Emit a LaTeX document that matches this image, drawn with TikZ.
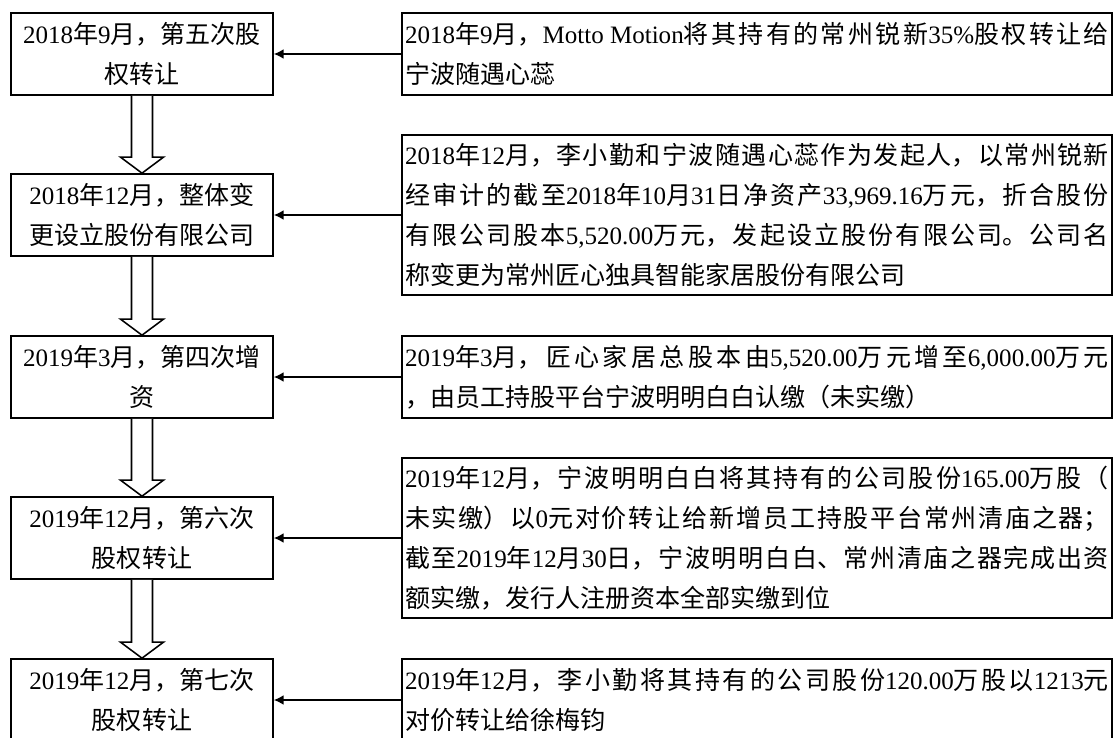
\documentclass[tikz,border=0pt]{standalone}
\usepackage{fontspec}
\setmainfont{Noto Sans CJK SC}
\newfontfamily\enfont{Liberation Serif}
\usetikzlibrary{arrows.meta}
\usetikzlibrary{calc}
\newcommand\en[1]{{\enfont #1}}
\newcommand\zhsize{\fontsize{17.8pt}{28.45pt}\selectfont}
% hollow block arrow from one stage box down to the next
\newcommand\flowdown[2]{%
  \draw[hollow] ($(#1.south)+(-0.2625,0)$) -- ($(#2.north)+(-0.2625,0.4)$)
    -- ($(#2.north)+(-0.5375,0.4)$) -- (#2.north) -- ($(#2.north)+(0.5375,0.4)$)
    -- ($(#2.north)+(0.2625,0.4)$) -- ($(#1.south)+(0.2625,0)$);}
\tikzset{
  >=latex,
  stage/.style={draw,line width=1.2pt,minimum width=6.55cm,minimum height=2.05cm,
    text width=6.4cm,align=center,inner sep=0pt,font=\zhsize},
  event/.style={draw,line width=1.2pt,minimum width=17.75cm,minimum height=2.05cm,
    text width=17.6cm,align=justify,inner sep=2pt,font=\zhsize,
    execute at begin node={\XeTeXlinebreaklocale "zh"\XeTeXlinebreakskip=0pt plus 1fil\parfillskip=0pt plus 1fill\relax}},
  event tall/.style={event,minimum height=4cm},
  hollow/.style={line width=1.1pt,fill=white},
  connect arrow/.style={-{Latex[length=7pt,width=7pt]},line width=1pt}
}
\begin{document}
\begin{tikzpicture}
    \useasboundingbox (0,0) rectangle (27.825,-18.45);
    % stages
    \node[stage] (s1) at (3.55,-1.35) {\en{2018}年\en{9}月，第五次股\\权转让};
    \node[stage] (s2) at (3.55,-5.375) {\en{2018}年\en{12}月，整体变\\更设立股份有限公司};
    \node[stage] (s3) at (3.55,-9.425) {\en{2019}年\en{3}月，第四次增\\资};
    \node[stage] (s4) at (3.55,-13.45) {\en{2019}年\en{12}月，第六次\\股权转让};
    \node[stage] (s5) at (3.55,-17.5) {\en{2019}年\en{12}月，第七次\\股权转让};
    % details
    \node[event] (e1) at (18.925,-1.35) {\en{2018}年\en{9}月，\en{Motto Motion}将其持有的常州锐新\en{35\%}股权转让给\linebreak
      宁波随遇心蕊};
    \node[event tall] (e2) at (18.925,-5.375) {\en{2018}年\en{12}月，李小勤和宁波随遇心蕊作为发起人，以常州锐新\linebreak
      经审计的截至\en{2018}年\en{10}月\en{31}日净资产\en{33,969.16}万元，折合股份\linebreak
      有限公司股本\en{5,520.00}万元，发起设立股份有限公司。公司名\linebreak
      称变更为常州匠心独具智能家居股份有限公司};
    \node[event] (e3) at (18.925,-9.425) {\en{2019}年\en{3}月，匠心家居总股本由\en{5,520.00}万元增至\en{6,000.00}万元\linebreak
      ，由员工持股平台宁波明明白白认缴（未实缴）};
    \node[event tall] (e4) at (18.925,-13.45) {\en{2019}年\en{12}月，宁波明明白白将其持有的公司股份\en{165.00}万股（\linebreak
      未实缴）以\en{0}元对价转让给新增员工持股平台常州清庙之器；\linebreak
      截至\en{2019}年\en{12}月\en{30}日，宁波明明白白、常州清庙之器完成出资\linebreak
      额实缴，发行人注册资本全部实缴到位};
    \node[event] (e5) at (18.925,-17.5) {\en{2019}年\en{12}月，李小勤将其持有的公司股份\en{120.00}万股以\en{1213}元\linebreak
      对价转让给徐梅钧};
    % flow between stages
    \flowdown{s1}{s2}
    \flowdown{s2}{s3}
    \flowdown{s3}{s4}
    \flowdown{s4}{s5}
    % details point to stages
    \draw[connect arrow] (e1.west) -- (s1.east);
    \draw[connect arrow] (e2.west) -- (s2.east);
    \draw[connect arrow] (e3.west) -- (s3.east);
    \draw[connect arrow] (e4.west) -- (s4.east);
    \draw[connect arrow] (e5.west) -- (s5.east);
\end{tikzpicture}
\end{document}
